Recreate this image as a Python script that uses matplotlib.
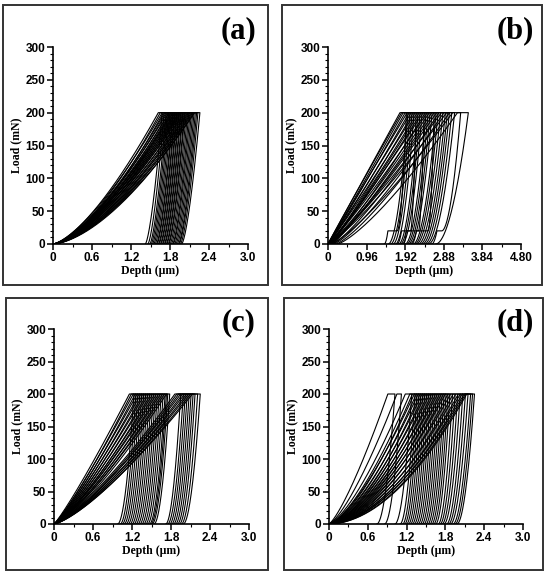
import numpy as np
import matplotlib
matplotlib.use("Agg")
import matplotlib.pyplot as plt
from matplotlib.patches import Rectangle
from matplotlib.ticker import MultipleLocator, FixedLocator

PMAX = 200.0

# ---------------- data ----------------
# panel (a)
a_hmax = [1.62, 1.65, 1.68, 1.70, 1.72, 1.74, 1.76, 1.78, 1.79, 1.81, 1.82,
          1.84, 1.85, 1.87, 1.88, 1.90, 1.91, 1.93, 1.94, 1.96, 1.97, 1.99,
          2.01, 2.03, 2.05, 2.07, 2.09, 2.11, 2.13, 2.15, 2.17, 2.18]
a_hend = [1.68, 1.71, 1.74, 1.76, 1.78, 1.80, 1.82, 1.84, 1.85, 1.87, 1.88,
          1.90, 1.91, 1.93, 1.94, 1.96, 1.97, 1.99, 2.00, 2.02, 2.03, 2.05,
          2.07, 2.09, 2.11, 2.13, 2.15, 2.17, 2.19, 2.21, 2.23, 2.26]
a_hf = [1.42, 1.46, 1.49, 1.51, 1.53, 1.55, 1.57, 1.59, 1.60, 1.62, 1.63,
        1.65, 1.66, 1.68, 1.69, 1.71, 1.72, 1.74, 1.75, 1.77, 1.78, 1.80,
        1.82, 1.84, 1.85, 1.87, 1.89, 1.91, 1.93, 1.94, 1.96, 1.98]
a_m = [1.45, 1.50, 1.42, 1.52, 1.46, 1.50, 1.44, 1.53, 1.47, 1.50, 1.55,
       1.45, 1.50, 1.48, 1.54, 1.46, 1.52, 1.49, 1.55, 1.47, 1.53, 1.50,
       1.56, 1.50, 1.55, 1.58, 1.52, 1.57, 1.60, 1.55, 1.62, 1.58]

# panel (b)
b_h0 = [0, 0, 0, 0, 0, 0, 0, 0.04, 0, 0, 0.06, 0, 0, 0.08, 0, 0,
        0.10, 0, 0.05, 0.12, 0, 0.15, 0, 0.20, 0.08, 0.24]
b_hmax = [1.79, 1.83, 1.87, 1.92, 1.97, 2.02, 2.07, 2.12, 2.17, 2.22, 2.27,
          2.32, 2.37, 2.42, 2.47, 2.52, 2.58, 2.64, 2.70, 2.76, 2.82, 2.88,
          2.95, 3.02, 3.10, 3.22]
b_hend = [1.95, 1.99, 2.04, 2.09, 2.14, 2.19, 2.24, 2.29, 2.34, 2.39, 2.44,
          2.49, 2.54, 2.59, 2.64, 2.69, 2.74, 2.80, 2.86, 2.92, 2.97, 3.02,
          3.08, 3.15, 3.30, 3.49]
b_h20 = [1.72, None, None, None, None, 2.05, None, None, None, 2.25, None,
         None, None, None, 2.49, None, None, None, None, None, None, None,
         None, None, 2.83, None]
b_h20b = [1.49, None, None, None, None, 1.83, None, None, None, 1.95, None,
          None, None, None, 2.20, None, None, None, None, None, None, None,
          None, None, 2.71, None]
b_hf = [1.40, 1.50, 1.56, 1.62, 1.68, 1.72, 1.76, 1.80, 1.84, 1.88, 1.92,
        1.96, 2.00, 2.04, 2.08, 2.12, 2.16, 2.20, 2.25, 2.30, 2.35, 2.40,
        2.45, 2.50, 2.58, 2.68]
b_m = [1.00, 0.98, 1.02, 1.05, 1.00, 1.08, 1.04, 1.10, 1.06, 1.12, 1.08,
       1.14, 1.10, 1.16, 1.12, 1.18, 1.15, 1.20, 1.17, 1.22, 1.18, 1.25,
       1.20, 1.27, 1.24, 1.30]

# panel (c)
c_hmax = [1.16, 1.19, 1.22, 1.25, 1.28, 1.31, 1.34, 1.37, 1.40, 1.43, 1.46,
          1.49, 1.52, 1.55, 1.58, 1.61, 1.64, 1.67, 1.70, 1.73, 1.86, 1.89,
          1.92, 1.95, 1.98, 2.01, 2.04, 2.07, 2.10, 2.13]
c_hend = [1.23, 1.26, 1.29, 1.32, 1.35, 1.38, 1.41, 1.44, 1.47, 1.50, 1.53,
          1.56, 1.59, 1.62, 1.65, 1.68, 1.71, 1.73, 1.75, 1.78, 1.95, 1.99,
          2.02, 2.05, 2.08, 2.11, 2.14, 2.17, 2.21, 2.25]
c_hf = [0.98, 1.02, 1.05, 1.08, 1.11, 1.14, 1.17, 1.20, 1.23, 1.26, 1.29,
        1.32, 1.35, 1.38, 1.41, 1.44, 1.47, 1.49, 1.51, 1.54, 1.72, 1.75,
        1.78, 1.81, 1.84, 1.87, 1.90, 1.93, 1.96, 1.99]
c_m = [1.12, 1.18, 1.14, 1.20, 1.16, 1.22, 1.18, 1.24, 1.20, 1.26, 1.22,
       1.28, 1.24, 1.27, 1.25, 1.30, 1.26, 1.30, 1.28, 1.32, 1.28, 1.30,
       1.32, 1.29, 1.33, 1.31, 1.34, 1.32, 1.35, 1.33]

# panel (d)
d_hmax = [0.91, 1.05, 1.18, 1.25, 1.29, 1.32, 1.35, 1.38, 1.41, 1.44, 1.47,
          1.50, 1.53, 1.56, 1.59, 1.62, 1.65, 1.68, 1.71, 1.74, 1.77, 1.80,
          1.84, 1.88, 1.92, 1.96, 2.00, 2.03, 2.06, 2.09, 2.11, 2.13]
d_hend = [1.02, 1.12, 1.28, 1.33, 1.36, 1.39, 1.42, 1.45, 1.48, 1.51, 1.54,
          1.57, 1.60, 1.63, 1.66, 1.69, 1.72, 1.75, 1.78, 1.81, 1.84, 1.87,
          1.91, 1.95, 1.99, 2.03, 2.07, 2.11, 2.15, 2.19, 2.22, 2.25]
d_hf = [0.74, 0.86, 1.02, 1.10, 1.14, 1.17, 1.20, 1.23, 1.26, 1.29, 1.32,
        1.35, 1.38, 1.41, 1.44, 1.47, 1.50, 1.53, 1.56, 1.59, 1.62, 1.65,
        1.69, 1.72, 1.75, 1.78, 1.82, 1.85, 1.88, 1.92, 1.95, 1.98]
d_m = [1.28, 1.35, 1.40, 1.45, 1.50, 1.42, 1.55, 1.48, 1.60, 1.52, 1.62,
       1.55, 1.65, 1.58, 1.68, 1.60, 1.70, 1.62, 1.72, 1.65, 1.75, 1.68,
       1.78, 1.70, 1.80, 1.74, 1.82, 1.78, 1.85, 1.80, 1.88, 1.90]

panel_letters = ["(a)", "(b)", "(c)", "(d)"]
x_ticks_acd = [0, 0.6, 1.2, 1.8, 2.4, 3.0]
x_labels_acd = ["0", "0.6", "1.2", "1.8", "2.4", "3.0"]
x_ticks_b = [0, 0.96, 1.92, 2.88, 3.84, 4.80]
x_labels_b = ["0", "0.96", "1.92", "2.88", "3.84", "4.80"]
y_ticks = [0, 50, 100, 150, 200, 250, 300]

# ---------------- helpers ----------------
def load_unload(ax, h0, hmax, hend, hf, m, n, h20=None, h20b=None):
    hl = np.linspace(h0, hmax, 120)
    pl = PMAX * ((hl - h0) / (hmax - h0)) ** m
    xs = [hl, [hmax, hend]]
    ys = [pl, [PMAX, PMAX]]
    if h20 is None:
        hu = np.linspace(hend, hf, 120)
        pu = PMAX * ((hu - hf) / (hend - hf)) ** n
        xs.append(hu); ys.append(pu)
    else:
        p_low = 20.0
        hu = np.linspace(hend, h20, 100)
        pu = p_low + (PMAX - p_low) * ((hu - h20) / (hend - h20)) ** n
        xs.append(hu); ys.append(pu)
        xs.append([h20, h20b]); ys.append([p_low, p_low])
        hd = np.linspace(h20b, hf, 60)
        pd = p_low * ((hd - hf) / (h20b - hf)) ** 2.0
        xs.append(hd); ys.append(pd)
    ax.plot(np.concatenate(xs), np.concatenate(ys), color="black", lw=0.8)


fig = plt.figure(figsize=(5.5, 5.75), dpi=100)
W, H = 550.0, 575.0

def axes_px(l, r, t, b):
    return fig.add_axes([l / W, 1 - b / H, (r - l) / W, (b - t) / H])

frames = [(3, 268, 5, 285), (282, 542, 5, 285), (6, 268, 298, 570), (284, 543, 298, 570)]
for (l, r, t, b) in frames:
    fig.patches.append(Rectangle((l / W, 1 - b / H), (r - l) / W, (b - t) / H,
                                 transform=fig.transFigure, fill=False,
                                 edgecolor="#333333", lw=1.4))

axes_boxes = [(53, 248, 47, 244), (328, 521, 47, 244), (54, 249, 329, 524), (329, 523, 329, 524)]
axs = [axes_px(*bx) for bx in axes_boxes]

for i in range(len(a_hmax)):
    load_unload(axs[0], 0.0, a_hmax[i], a_hend[i], a_hf[i], a_m[i], 1.5)
for i in range(len(b_hmax)):
    load_unload(axs[1], b_h0[i], b_hmax[i], b_hend[i], b_hf[i], b_m[i], 1.9,
                b_h20[i], b_h20b[i])
for i in range(len(c_hmax)):
    load_unload(axs[2], 0.0, c_hmax[i], c_hend[i], c_hf[i], c_m[i], 1.9)
for i in range(len(d_hmax)):
    load_unload(axs[3], 0.0, d_hmax[i], d_hend[i], d_hf[i], d_m[i], 1.9)

label_font = dict(family="Liberation Serif", weight="bold", size=8.5)

for k, ax in enumerate(axs):
    if k == 1:
        ax.set_xlim(0, 4.80)
        ax.xaxis.set_major_locator(FixedLocator(x_ticks_b))
        ax.set_xticklabels(x_labels_b)
        ax.xaxis.set_minor_locator(MultipleLocator(0.48))
    else:
        ax.set_xlim(0, 3.0)
        ax.xaxis.set_major_locator(FixedLocator(x_ticks_acd))
        ax.set_xticklabels(x_labels_acd)
        ax.xaxis.set_minor_locator(MultipleLocator(0.3))
    ax.set_ylim(0, 300)
    ax.yaxis.set_major_locator(FixedLocator(y_ticks))
    ax.set_yticklabels([str(v) for v in y_ticks])
    ax.yaxis.set_minor_locator(MultipleLocator(10))
    for s in ["top", "right"]:
        ax.spines[s].set_visible(False)
    for s in ["left", "bottom"]:
        ax.spines[s].set_linewidth(1.2)
    ax.tick_params(which="major", direction="out", length=4, width=1.1, pad=1.5)
    ax.tick_params(which="minor", direction="out", length=2, width=0.8)
    for lab in ax.get_xticklabels() + ax.get_yticklabels():
        lab.set_fontfamily("Liberation Sans")
        lab.set_fontweight("bold")
        lab.set_fontsize(8.5)
    ax.set_xlabel("Depth (μm)", labelpad=1, **label_font)
    ax.set_ylabel("Load (mN)", labelpad=2, **label_font)
    ax.patch.set_alpha(0)

letter_pos = [(239, 31), (515, 31), (239, 323), (515, 323)]
for (x, y), t in zip(letter_pos, panel_letters):
    fig.text(x / W, 1 - y / H, t, ha="center", va="center",
             family="Liberation Serif", weight="bold", fontsize=22)

fig.savefig("out.png", dpi=100)
